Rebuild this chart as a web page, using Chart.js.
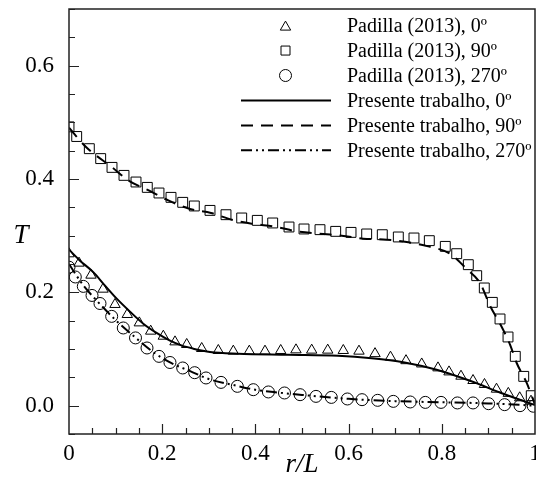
<!DOCTYPE html>
<html>
<head>
<meta charset="utf-8">
<script src="https://cdn.jsdelivr.net/npm/chart.js@4.4.1/dist/chart.umd.min.js"></script>
<style>
  html, body { margin: 0; padding: 0; background: #fff; }
</style>
</head>
<body>
<canvas id="chart" width="536" height="481"></canvas>
<script>
// Padilla (2013) reference points
const tri0X = [0, 0.0215, 0.0472, 0.073, 0.0987, 0.1251, 0.1509, 0.1753, 0.2024, 0.2275, 0.2526, 0.2848, 0.3204, 0.3526, 0.3869, 0.4206, 0.4543, 0.4871, 0.5208, 0.5552, 0.5886, 0.6223, 0.6567, 0.6899, 0.7232, 0.7569, 0.7918, 0.8155, 0.8412, 0.867, 0.8916, 0.9174, 0.9427, 0.9672, 0.9914];
const tri0T = [0.268, 0.2515, 0.2303, 0.2056, 0.1786, 0.1609, 0.1461, 0.1315, 0.1226, 0.1126, 0.108, 0.1009, 0.0974, 0.0962, 0.0962, 0.0962, 0.0974, 0.0985, 0.098, 0.098, 0.0974, 0.0962, 0.0918, 0.0856, 0.0794, 0.0736, 0.0667, 0.0596, 0.052, 0.0444, 0.0374, 0.0291, 0.0217, 0.0139, 0.0079];

const sq90X = [0, 0.0165, 0.0436, 0.068, 0.0923, 0.118, 0.1438, 0.168, 0.1931, 0.2189, 0.244, 0.2689, 0.3026, 0.3369, 0.3706, 0.4041, 0.4371, 0.4721, 0.5043, 0.5386, 0.5723, 0.6052, 0.6388, 0.6723, 0.7067, 0.7403, 0.7732, 0.8075, 0.832, 0.8569, 0.8749, 0.8912, 0.9084, 0.9249, 0.9421, 0.9577, 0.9758, 0.992];
const sq90T = [0.492, 0.475, 0.4535, 0.436, 0.4205, 0.4064, 0.3947, 0.3852, 0.3753, 0.3676, 0.3588, 0.3524, 0.3446, 0.337, 0.3312, 0.327, 0.3224, 0.3153, 0.3118, 0.3106, 0.3076, 0.3058, 0.303, 0.3017, 0.2977, 0.2959, 0.2912, 0.2811, 0.2682, 0.2488, 0.2294, 0.2077, 0.1823, 0.153, 0.1212, 0.087, 0.0517, 0.0176];

const circ270X = [0, 0.0135, 0.0307, 0.0494, 0.0665, 0.0916, 0.1165, 0.1427, 0.1674, 0.1931, 0.2167, 0.244, 0.2697, 0.294, 0.3262, 0.3612, 0.3955, 0.4279, 0.4624, 0.4959, 0.53, 0.5629, 0.5974, 0.6288, 0.6624, 0.6959, 0.7322, 0.7646, 0.7983, 0.8335, 0.867, 0.9004, 0.9348, 0.9678, 0.9964];
const circ270T = [0.2444, 0.2271, 0.2105, 0.1945, 0.1803, 0.1576, 0.1371, 0.1196, 0.1018, 0.087, 0.0762, 0.0665, 0.0582, 0.0489, 0.0411, 0.0341, 0.0282, 0.0242, 0.0224, 0.0194, 0.0164, 0.0146, 0.0118, 0.0106, 0.0094, 0.0076, 0.0065, 0.0058, 0.0058, 0.0048, 0.0048, 0.0035, 0.0018, 0.0, -0.001];

// Presente trabalho (curves)
const line0X = [0, 0.0236, 0.0521, 0.0773, 0.1024, 0.1309, 0.1594, 0.1888, 0.2167, 0.2425, 0.2667, 0.3026, 0.3627, 0.47, 0.5773, 0.6496, 0.7174, 0.789, 0.8605, 0.932, 1.0];
const line0T = [0.2753, 0.2559, 0.2356, 0.2118, 0.1888, 0.1659, 0.1447, 0.1279, 0.1147, 0.1059, 0.1006, 0.0948, 0.0918, 0.09, 0.0882, 0.0838, 0.0768, 0.0635, 0.044, 0.021, 0.001];

const line90X = [0, 0.0365, 0.0916, 0.1273, 0.1753, 0.2131, 0.2597, 0.3047, 0.3491, 0.392, 0.4457, 0.4886, 0.5457, 0.5852, 0.6315, 0.6818, 0.7247, 0.771, 0.8176, 0.8534, 0.882, 0.9034, 0.9249, 0.9464, 0.9607, 0.9822, 1.0];
const line90T = [0.4906, 0.4565, 0.4212, 0.3976, 0.3782, 0.3623, 0.3471, 0.34, 0.3282, 0.3212, 0.3153, 0.3076, 0.303, 0.3, 0.2947, 0.2929, 0.2889, 0.2811, 0.2682, 0.2412, 0.2165, 0.1765, 0.1447, 0.1076, 0.0753, 0.0401, 0.0018];

const line270X = [0, 0.03, 0.06, 0.1, 0.14, 0.18, 0.22, 0.26, 0.3, 0.35, 0.4, 0.45, 0.5, 0.6, 0.7, 0.8, 0.9, 1.0];
const line270T = [0.25, 0.213, 0.185, 0.151, 0.122, 0.095, 0.075, 0.061, 0.047, 0.037, 0.028, 0.023, 0.019, 0.012, 0.008, 0.006, 0.004, 0.0];

const xTicks = [0, 0.2, 0.4, 0.6, 0.8, 1];
const yTicks = [0, 0.2, 0.4, 0.6];

const SERIF = "'Liberation Serif', 'Times New Roman', serif";

const pts = (xs, ys) => xs.map((x, i) => ({ x: x, y: ys[i] }));

function markerSet(label, xs, ys, style, r) {
    return {
        label: label, data: pts(xs, ys), showLine: false,
        pointStyle: style, pointRadius: r, pointBorderWidth: 1,
        pointBorderColor: '#000', pointBackgroundColor: 'rgba(0,0,0,0)'
    };
}

function curveSet(label, xs, ys, dash) {
    return {
        label: label, data: pts(xs, ys), showLine: true, pointRadius: 0,
        borderColor: '#000', borderWidth: 2, borderDash: dash,
        cubicInterpolationMode: 'monotone'
    };
}

const datasets = [
    curveSet('Presente trabalho, 0º', line0X, line0T, []),
    curveSet('Presente trabalho, 90º', line90X, line90T, [12, 8]),
    curveSet('Presente trabalho, 270º', line270X, line270T, [11, 4, 2, 4, 2, 4]),
    markerSet('Padilla (2013), 0º', tri0X, tri0T, 'triangle', 6),
    markerSet('Padilla (2013), 90º', sq90X, sq90T, 'rect', 7),
    markerSet('Padilla (2013), 270º', circ270X, circ270T, 'circle', 6)
];

// box round the plot and inward tick marks
const framePlugin = {
    id: 'frame',
    afterDatasetsDraw(chart) {
        const { ctx, chartArea: a, scales } = chart;
        const x = scales.x, y = scales.y;
        ctx.save();
        ctx.strokeStyle = '#222';
        ctx.lineWidth = 1.5;
        ctx.strokeRect(a.left, a.top, a.right - a.left, a.bottom - a.top);
        ctx.lineWidth = 1.2;
        ctx.beginPath();
        for (let i = -1; i <= 14; i++) {
            const v = i * 0.05;
            const py = Math.round(y.getPixelForValue(v)) + 0.5;
            const len = (i % 4 === 0) ? 10 : 6;
            ctx.moveTo(a.left, py);
            ctx.lineTo(a.left + len, py);
        }
        for (let i = 1; i < 20; i++) {
            const v = i * 0.05;
            const px = Math.round(x.getPixelForValue(v)) + 0.5;
            const len = (i % 4 === 0) ? 10 : 6;
            ctx.moveTo(px, a.bottom);
            ctx.lineTo(px, a.bottom - len);
        }
        ctx.stroke();

        // y title, upright
        ctx.fillStyle = '#000';
        ctx.font = "italic 27px " + SERIF;
        ctx.textAlign = 'center';
        ctx.textBaseline = 'middle';
        ctx.fillText('T', 21, 236);
        ctx.restore();
    }
};

// legend in the upper right corner
const legendPlugin = {
    id: 'legendBox',
    afterDraw(chart) {
        const ctx = chart.ctx;
        const rows = [
            { ds: 3, kind: 'triangle' },
            { ds: 4, kind: 'rect' },
            { ds: 5, kind: 'circle' },
            { ds: 0, kind: 'line' },
            { ds: 1, kind: 'line' },
            { ds: 2, kind: 'line' }
        ];
        const rowY0 = 25.6, rowH = 24.95, symX = 285.5, textX = 347;
        ctx.save();
        ctx.font = "20px " + SERIF;
        ctx.textBaseline = 'middle';
        ctx.textAlign = 'left';
        rows.forEach((r, i) => {
            const ds = chart.data.datasets[r.ds];
            const yy = rowY0 + i * rowH;
            ctx.strokeStyle = '#000';
            ctx.fillStyle = '#000';
            if (r.kind === 'line') {
                ctx.lineWidth = 2;
                ctx.setLineDash(ds.borderDash);
                ctx.beginPath();
                ctx.moveTo(241, yy);
                ctx.lineTo(331, yy);
                ctx.stroke();
                ctx.setLineDash([]);
            } else {
                ctx.lineWidth = 1;
                ctx.beginPath();
                const rad = 6;
                if (r.kind === 'triangle') {
                    ctx.moveTo(symX, yy - rad + 1.5);
                    ctx.lineTo(symX + rad * 0.866, yy + rad / 2 + 1.5);
                    ctx.lineTo(symX - rad * 0.866, yy + rad / 2 + 1.5);
                    ctx.closePath();
                } else if (r.kind === 'rect') {
                    const s = 4.5;
                    ctx.rect(symX - s, yy - s, 2 * s, 2 * s);
                } else {
                    ctx.arc(symX, yy, rad, 0, Math.PI * 2);
                }
                ctx.stroke();
            }
            ctx.fillText(ds.label, textX, yy + 1);
        });
        ctx.restore();
    }
};

// keep tick labels from shrinking the plot area
function fixPad(scale) {
    scale.paddingLeft = 0;
    scale.paddingRight = 0;
    scale.paddingTop = 0;
    scale.paddingBottom = 0;
    scale.getPadding = () => ({ left: 0, right: 0, top: 0, bottom: 0 });
}

new Chart(document.getElementById('chart'), {
    type: 'scatter',
    data: { datasets: datasets },
    options: {
        responsive: false,
        animation: false,
        devicePixelRatio: 1,
        layout: { autoPadding: false, padding: { top: 9, right: 1, left: 0, bottom: 0 } },
        plugins: { legend: { display: false }, tooltip: { enabled: false } },
        scales: {
            x: {
                type: 'linear', min: 0, max: 1,
                grid: { display: false }, border: { display: false },
                afterBuildTicks: s => { s.ticks = xTicks.map(v => ({ value: v })); },
                afterFit: s => { s.height = 47; fixPad(s); },
                ticks: {
                    color: '#000', padding: -2, maxRotation: 0, autoSkip: false,
                    font: { family: SERIF, size: 23 },
                    callback: v => (v === 0 || v === 1) ? String(v) : v.toFixed(1)
                },
                title: {
                    display: true, text: 'r/L', color: '#000',
                    padding: { top: 0, bottom: 0 },
                    font: { family: SERIF, size: 27, style: 'italic' }
                }
            },
            y: {
                type: 'linear', min: -0.05, max: 0.7,
                grid: { display: false }, border: { display: false },
                afterBuildTicks: s => { s.ticks = yTicks.map(v => ({ value: v })); },
                afterFit: s => { s.width = 69; fixPad(s); },
                ticks: {
                    color: '#000', padding: 7, autoSkip: false,
                    font: { family: SERIF, size: 23 },
                    callback: v => v.toFixed(1)
                }
            }
        }
    },
    plugins: [framePlugin, legendPlugin]
});
</script>
</body>
</html>
